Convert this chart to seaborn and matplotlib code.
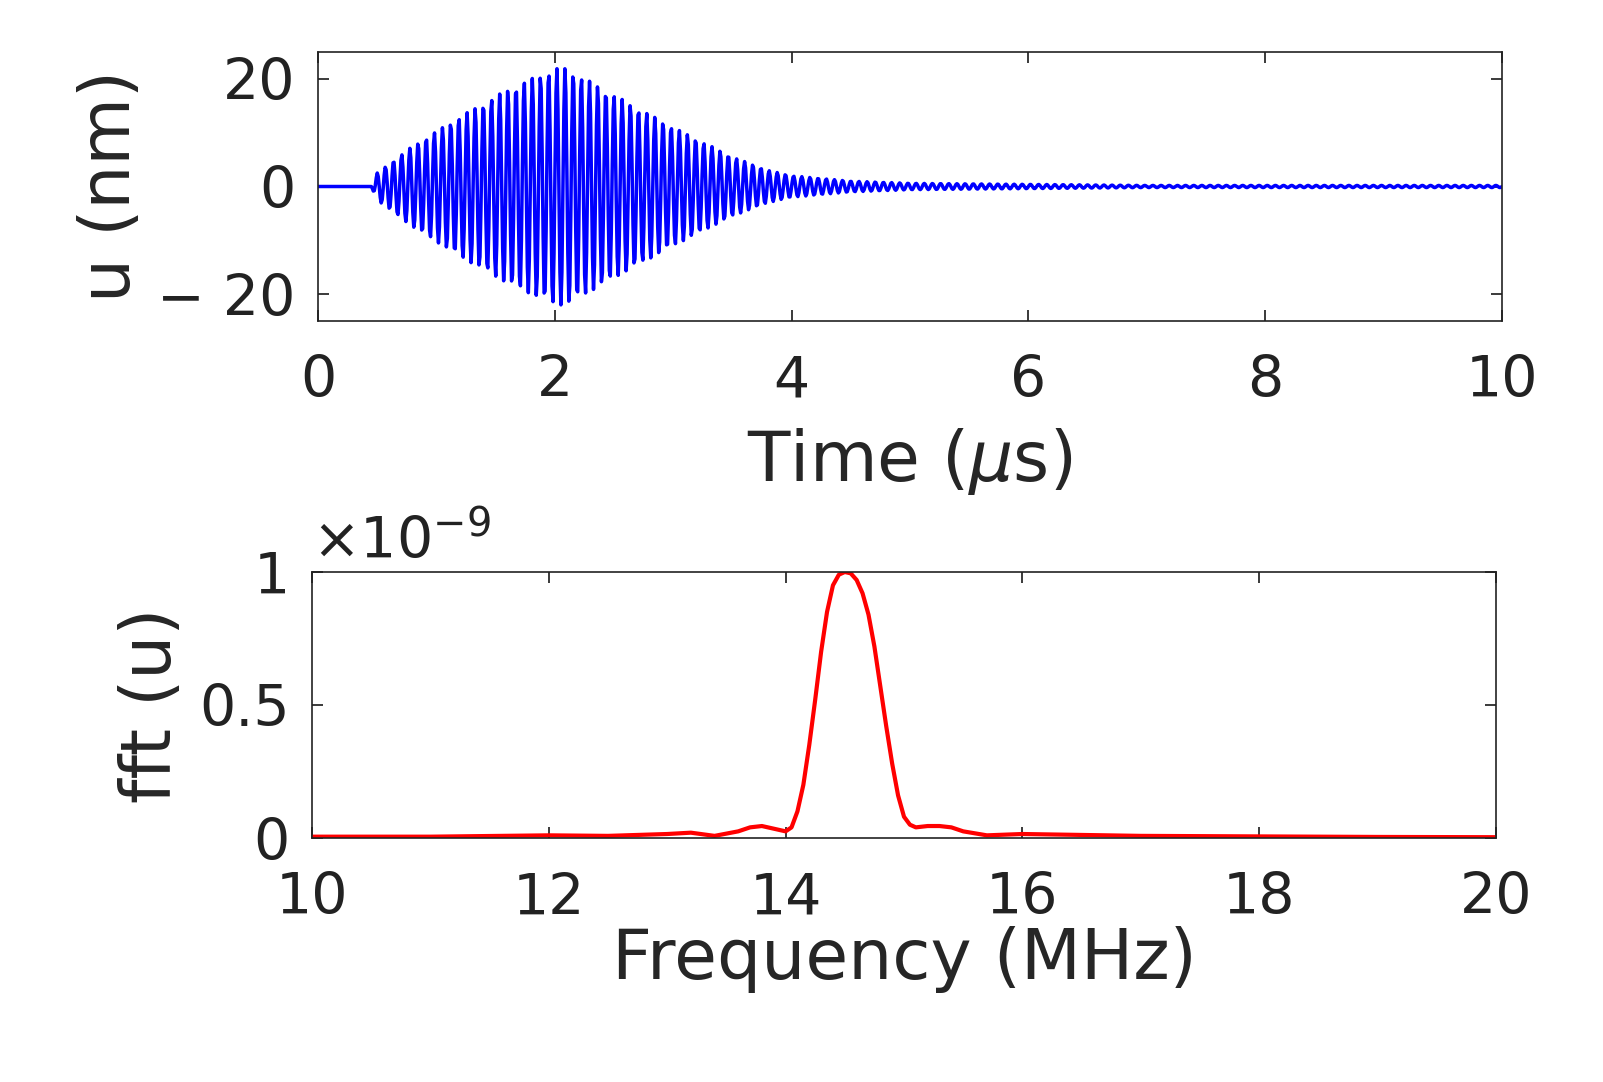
import numpy as np
import matplotlib
matplotlib.use("Agg")
import matplotlib.pyplot as plt
import seaborn as sns

# Envelope of the time signal (us, nm)
env_t = [0, 0.45, 0.5, 0.8, 1.2, 1.6, 2.0, 2.1, 2.5, 3.0, 3.5, 3.8, 4.0, 4.5, 5.0, 6.0, 7.0, 10.0]
env_a = [0, 0, 2.5, 7.5, 13, 18, 22, 22, 17, 11, 5.5, 3.0, 2.0, 1.0, 0.6, 0.4, 0.2, 0.2]
carrier_mhz = 14.5

# Spectrum (MHz, x1e-9)
f_mhz = [10, 11, 12, 12.5, 13, 13.2, 13.4, 13.6, 13.7, 13.8, 13.9, 14.0, 14.05, 14.1, 14.15, 14.2, 14.25, 14.3,
         14.35, 14.4, 14.45, 14.5, 14.55, 14.6, 14.65, 14.7, 14.75, 14.8, 14.85, 14.9, 14.95, 15.0, 15.05, 15.1,
         15.2, 15.3, 15.4, 15.5, 15.7, 16, 17, 18, 19, 20]
spec = [0.005, 0.005, 0.01, 0.008, 0.015, 0.02, 0.008, 0.025, 0.04, 0.045, 0.035, 0.025, 0.04, 0.1, 0.2, 0.35,
        0.52, 0.7, 0.85, 0.95, 0.99, 1.0, 0.995, 0.97, 0.92, 0.84, 0.72, 0.57, 0.42, 0.28, 0.16, 0.08, 0.05,
        0.04, 0.045, 0.045, 0.04, 0.025, 0.01, 0.015, 0.008, 0.006, 0.004, 0.003]

sns.set_theme(style="white")
plt.rcParams["font.family"] = "DejaVu Sans"
tfs, lfs = 41, 50
fig = plt.figure(figsize=(16.03, 10.82), dpi=100)
W, H = 1603, 1082
ax1 = fig.add_axes([318 / W, 1 - 321 / H, (1502 - 318) / W, (321 - 52) / H])
ax2 = fig.add_axes([312 / W, 1 - 838 / H, (1496 - 312) / W, (838 - 572) / H])

t = np.linspace(0, 10, 1200)
u = np.interp(t, env_t, env_a) * np.sin(2 * np.pi * carrier_mhz * t)
sns.lineplot(x=t, y=u, ax=ax1, color="blue", lw=2.5)
ax1.set_xlim(0, 10); ax1.set_ylim(-25, 25)
ax1.set_xticks([0, 2, 4, 6, 8, 10]); ax1.set_yticks([-20, 0, 20])
ax1.set_yticklabels(["\u2212 20", "0", "20"])
ax1.set_xlabel("Time ($\\mu$s)", fontsize=lfs, labelpad=12)
ax1.set_ylabel("u (nm)", fontsize=lfs, labelpad=10)

sns.lineplot(x=f_mhz, y=spec, ax=ax2, color="red", lw=3)
ax2.set_xlim(10, 20); ax2.set_ylim(0, 1)
ax2.set_xticks([10, 12, 14, 16, 18, 20]); ax2.set_yticks([0, 0.5, 1])
ax2.set_yticklabels(["0", "0.5", "1"])
ax2.set_xlabel("Frequency (MHz)", fontsize=lfs, labelpad=0)
ax2.set_ylabel("fft (u)", fontsize=lfs, labelpad=10)
ax2.text(0.0, 1.05, "$\\times10^{-9}$", transform=ax2.transAxes, fontsize=tfs, color="#222222")

for ax in (ax1, ax2):
    for s in ax.spines.values():
        s.set_color("#222222"); s.set_linewidth(1.2)
    ax.tick_params(labelsize=tfs, colors="#222222", direction="in", length=8,
                   top=True, right=True, bottom=True, left=True)
    ax.tick_params(axis="x", pad=24)
    ax.tick_params(axis="y", pad=16)

fig.savefig("out.png", dpi=100)
